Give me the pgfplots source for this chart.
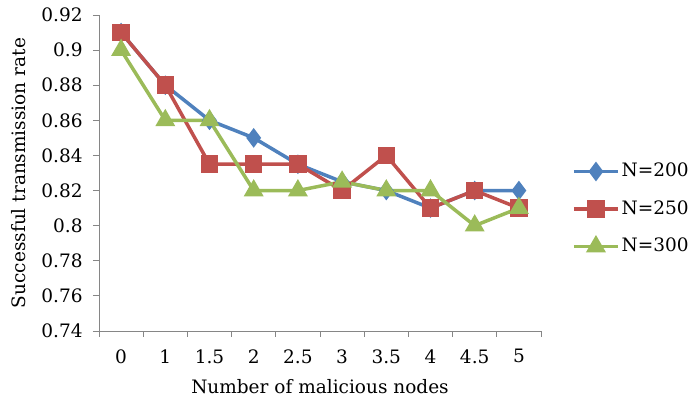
\documentclass[border=0pt]{standalone}
\usepackage{pgfplots}
\pgfplotsset{compat=1.18}
\usepackage{fontspec}
\setmainfont{DejaVu Serif}
\definecolor{cblue}{HTML}{4F81BD}
\definecolor{cred}{HTML}{C0504D}
\definecolor{cgreen}{HTML}{9BBB59}
\definecolor{axgray}{HTML}{868686}
\begin{document}
\fontsize{18.5pt}{22pt}\selectfont
\begin{tikzpicture}[x=1pt,y=1pt]
\useasboundingbox (-99,-72) rectangle (589,331);
\begin{axis}[
  at={(0,0)}, anchor=south west,
  scale only axis, width=442pt, height=316pt,
  xmin=-0.5, xmax=9.5, ymin=0.74, ymax=0.92,
  axis x line=bottom, axis y line=left,
  axis line style={-, axgray, line width=0.8pt},
  xtick={-0.5,0.5,...,9.5},
  xticklabels={0,1,1.5,2,2.5,3,3.5,4,4.5,5},
  x tick label as interval,
  ytick={0.74,0.76,...,0.921},
  tick align=outside,
  major tick length=6pt,
  tick style={axgray, line width=0.8pt},
  ticklabel style={font=\fontsize{18.5pt}{22pt}\selectfont},
  xticklabel style={yshift=-6pt},
  yticklabel style={xshift=-4pt, /pgf/number format/.cd, fixed, precision=2, assume math mode=true},
  label style={font=\fontsize{18.5pt}{22pt}\selectfont},
  xlabel style={yshift=-4pt},
  ylabel style={yshift=3pt},
  xlabel={Number of malicious nodes},
  ylabel={Successful transmission rate},
  every axis plot/.append style={line width=3.5pt},
  legend style={at={(1,0.5)}, anchor=west, xshift=28pt, yshift=-36pt, draw=none, fill=none,
    font=\fontsize{18.5pt}{22pt}\selectfont, row sep=17pt},
  legend cell align=left,
  legend image code/.code={\draw[mark repeat=2,mark phase=2] plot coordinates {(0pt,0pt) (22pt,0pt) (44pt,0pt)};},
]
\addplot[cblue, mark=diamond*, mark size=7pt, mark options={solid}] coordinates {
(0,0.91) (1,0.88) (2,0.86) (3,0.85) (4,0.835) (5,0.825) (6,0.82) (7,0.81) (8,0.82) (9,0.82)};
\addplot[cred, mark=square*, mark size=7pt] coordinates {
(0,0.91) (1,0.88) (2,0.835) (3,0.835) (4,0.835) (5,0.82) (6,0.84) (7,0.81) (8,0.82) (9,0.81)};
\addplot[cgreen, mark=triangle*, mark size=8pt] coordinates {
(0,0.90) (1,0.86) (2,0.86) (3,0.82) (4,0.82) (5,0.825) (6,0.82) (7,0.82) (8,0.80) (9,0.81)};
\legend{N=200,N=250,N=300}
\end{axis}
\end{tikzpicture}
\end{document}
